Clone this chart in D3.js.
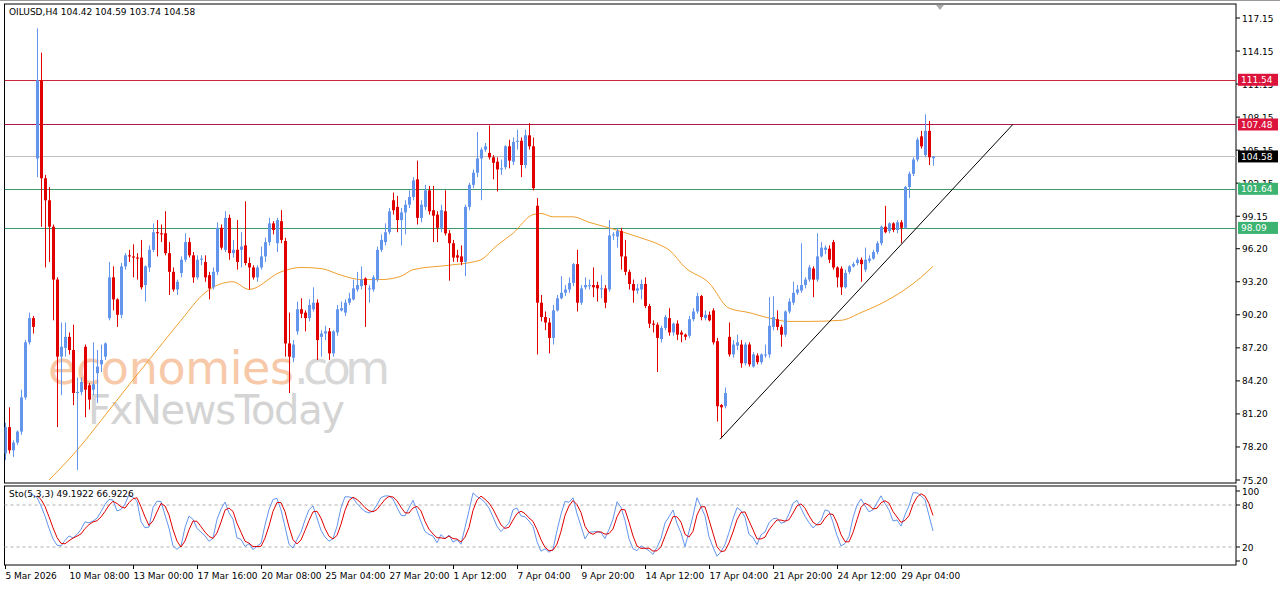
<!DOCTYPE html>
<html><head><meta charset="utf-8">
<script src="https://cdn.jsdelivr.net/npm/d3@7"></script>
<style>body{margin:0;background:#fff}svg{display:block}text{font-family:"DejaVu Sans",sans-serif}</style>
</head><body><svg id="c" width="1280" height="589"></svg>
<script>
const open=[77.6,80.0,77.9,78.6,79.6,82.7,87.7,89.9,104.4,111.5,
102.6,100.6,98.2,93.4,86.4,87.2,88.2,87.0,83.1,83.2,
87.3,83.8,83.4,84.9,85.7,86.4,89.9,93.6,91.6,90.2,
94.6,95.6,95.5,95.4,95.4,92.9,94.5,96.1,97.7,97.6,
97.6,95.8,94.1,92.5,94.0,95.2,96.8,95.6,93.6,95.2,
95.0,93.8,92.7,94.1,98.1,96.1,99.0,95.8,96.1,96.1,
96.5,94.9,94.5,93.6,94.5,95.5,96.8,98.5,96.7,98.7,
96.9,87.6,86.3,88.7,90.7,90.4,89.9,90.7,91.3,88.2,
88.5,88.7,86.7,88.6,90.6,90.4,91.3,91.6,92.5,92.8,
93.5,92.5,92.5,93.4,96.1,96.8,97.7,100.6,100.0,98.8,
99.5,100.2,100.9,102.5,99.0,100.0,101.5,99.7,99.3,98.1,
99.6,97.6,96.7,95.6,95.5,95.0,100.0,102.0,103.1,104.4,
105.2,104.9,104.5,104.1,103.4,103.6,105.5,104.1,105.9,106.0,
103.8,106.5,105.5,100.1,91.3,90.0,89.5,88.1,90.6,91.7,
92.2,92.5,93.1,94.8,91.3,92.7,92.8,92.9,92.9,92.6,
92.6,92.5,97.4,97.3,97.8,95.5,94.1,93.0,92.4,92.5,
93.0,91.0,89.4,89.3,88.0,89.0,89.9,88.6,89.4,88.6,
88.4,88.3,89.8,90.5,91.9,89.9,90.2,90.6,87.8,82.0,
81.9,88.2,86.6,87.4,87.5,85.8,87.5,85.5,86.5,85.9,
86.5,86.6,89.1,89.8,89.1,88.4,90.5,91.3,92.2,92.4,
92.9,93.4,94.4,93.4,95.5,96.1,96.2,96.8,94.5,94.4,
92.7,94.1,94.6,94.9,95.2,94.3,95.1,95.3,95.9,96.7,
98.2,97.8,98.5,97.9,98.6,98.1,101.8,103.0,104.3,106.4,
104.7,106.9,104.42];
const high=[80.4,81.8,78.8,79.7,83.4,87.9,90.4,90.1,116.2,114.0,
102.9,101.8,98.4,93.6,89.5,89.5,88.6,89.3,84.5,84.5,
87.5,84.0,87.7,87.0,87.5,87.7,95.0,94.6,91.7,94.9,
95.8,96.1,96.6,95.8,97.0,94.7,96.5,98.5,98.8,98.4,
99.6,96.8,94.5,93.4,95.5,97.6,97.2,95.9,95.6,95.6,
95.6,94.1,94.5,98.6,98.4,99.6,99.3,97.0,98.8,97.7,
100.5,95.4,94.7,94.7,96.4,97.2,99.0,98.7,99.0,99.7,
97.2,90.4,87.9,91.4,91.7,90.6,91.6,92.7,91.6,88.8,
89.2,89.0,88.8,91.1,91.4,91.6,92.2,93.4,94.1,94.6,
93.6,92.9,93.8,96.4,97.5,98.5,99.9,101.3,101.0,99.9,
100.6,101.5,102.7,104.2,100.6,102.0,101.9,101.9,99.6,100.2,
101.5,97.9,97.0,96.1,96.5,100.2,102.2,103.4,106.8,105.4,
105.8,107.4,104.7,104.5,104.3,105.6,106.1,106.3,107.0,106.3,
107.0,107.6,106.3,100.8,92.0,90.5,89.9,91.1,92.0,93.7,
92.9,93.6,94.9,96.1,92.9,93.6,93.4,94.5,93.2,93.8,
92.9,98.8,97.7,98.1,98.1,97.0,94.3,93.4,93.0,93.4,
93.6,91.2,89.7,89.5,89.2,90.2,90.8,89.5,89.7,88.8,
88.5,90.1,90.8,92.2,92.0,90.6,90.5,90.8,88.1,82.1,
83.6,89.5,87.9,88.4,87.9,87.7,87.7,86.8,86.7,86.7,
87.5,91.8,91.9,90.6,89.3,90.6,91.7,93.2,92.9,96.7,
93.6,94.7,94.6,97.6,96.8,96.5,96.5,97.0,94.6,94.6,
94.3,94.7,95.0,95.4,95.4,96.3,95.6,96.1,96.9,98.3,
100.1,98.6,98.6,98.8,98.8,101.9,103.2,104.5,106.3,106.9,
108.4,107.8,104.59];
const low=[77.0,77.6,77.3,78.4,79.3,82.5,87.5,88.5,102.7,98.2,
94.5,95.0,89.7,80.0,82.9,86.4,86.6,82.0,76.1,82.9,
80.9,81.6,82.9,82.2,85.0,86.1,89.7,90.6,89.1,89.9,
94.3,95.0,93.6,93.4,92.5,91.4,94.1,95.9,95.5,96.8,
95.6,92.0,92.3,92.0,93.6,95.0,95.4,93.1,93.4,94.7,
93.2,91.6,92.5,93.8,96.1,95.9,95.2,95.4,94.3,94.5,
94.7,92.5,93.4,93.2,94.3,95.0,96.5,97.5,95.9,96.7,
86.4,83.1,85.9,88.4,89.9,88.7,89.6,90.5,86.1,86.4,
87.9,86.1,86.4,88.3,90.5,90.1,91.1,91.5,92.3,92.5,
89.1,91.3,92.3,93.2,95.9,96.5,97.5,99.3,97.7,96.5,
97.5,99.9,100.6,98.4,98.6,99.7,99.3,96.8,96.8,97.7,
97.4,93.3,95.0,95.0,94.7,93.7,99.7,101.7,102.7,100.6,
105.0,104.3,102.5,101.4,102.9,103.4,103.5,103.8,105.2,102.7,
103.5,105.2,101.5,86.6,89.6,88.8,86.7,87.5,90.5,91.6,
91.9,92.2,92.8,90.5,91.1,92.5,92.5,91.8,91.4,91.7,
90.8,92.3,97.0,96.3,94.3,93.8,92.5,91.3,92.1,91.6,
90.8,89.0,88.6,85.0,87.7,88.8,88.3,88.3,87.9,87.7,
87.9,88.1,89.6,90.3,89.7,89.7,89.6,87.5,80.5,79.0,
81.7,86.4,86.3,87.0,85.4,85.6,85.5,85.4,85.7,85.7,
86.3,86.3,88.8,88.8,87.3,88.2,90.3,91.1,92.0,92.2,
92.6,93.2,91.8,93.2,95.4,95.7,94.9,94.3,92.7,92.0,
92.6,93.9,94.5,94.7,93.2,94.1,94.9,95.2,95.7,96.5,
97.6,97.6,97.7,97.6,96.7,98.0,100.8,102.8,104.1,105.3,
104.5,103.8,103.74];
const close=[80.0,77.9,78.6,79.6,82.7,87.7,89.9,89.1,111.5,102.6,
100.6,98.2,93.4,86.4,87.3,88.2,87.0,83.1,83.2,84.1,
83.4,82.5,83.9,85.5,86.1,87.6,93.6,91.6,90.2,94.6,
95.6,95.5,95.4,95.3,92.7,94.6,96.1,97.7,97.6,97.5,
95.8,94.1,92.5,93.2,95.2,96.8,95.6,93.6,95.2,95.3,
93.6,92.6,94.1,98.1,96.3,99.0,95.8,96.1,95.0,96.4,
94.9,94.5,93.6,94.5,95.5,96.8,98.5,97.9,98.8,97.0,
87.6,86.4,87.5,90.7,90.3,89.9,91.1,91.3,87.9,88.5,
88.7,86.7,88.7,90.7,90.8,91.3,91.7,92.6,92.9,93.4,
92.9,92.6,93.6,96.1,97.0,97.7,99.6,99.7,98.8,99.5,
100.2,100.9,102.4,99.0,100.2,101.5,99.6,99.2,98.1,99.7,
97.6,96.7,95.4,95.4,95.0,100.0,102.0,103.1,104.4,105.2,
105.5,104.5,104.0,103.4,103.5,105.5,104.2,105.9,106.0,103.8,
106.5,105.5,101.7,91.3,90.0,89.5,88.1,90.6,91.7,92.2,
92.5,93.1,94.8,91.3,92.6,92.9,92.9,92.7,92.6,92.6,
91.3,97.4,97.5,97.8,95.5,94.1,93.0,92.4,92.6,93.0,
91.0,89.4,89.3,88.1,89.0,90.0,88.6,89.4,88.4,88.4,
88.2,89.8,90.5,91.9,90.0,90.2,89.7,87.7,81.9,81.8,
83.1,86.6,87.5,87.7,85.8,87.5,85.7,86.6,85.9,86.6,
86.6,89.2,90.0,89.1,88.4,90.5,91.4,92.2,92.5,92.9,
93.4,94.5,93.4,95.5,96.3,96.3,95.2,94.5,93.6,92.7,
94.0,94.6,94.8,95.2,94.8,95.2,95.3,95.9,96.7,98.2,
97.7,98.5,97.9,98.6,98.1,101.8,103.0,104.3,106.1,105.5,
106.9,104.5,104.58];
const maIdx=[11,18,24,32,38,44,50,57,61,69,74,79,84,89,94,99,102,111,117,119,123,127,132,134,137,142,146,151,158,164,166,170,176,181,186,190,196,201,209,214,220,225,229,232];
const maVal=[75.2,77.9,80.6,84.3,87.0,89.7,92.2,93.2,92.5,94.1,94.5,94.4,93.8,93.4,93.4,93.7,94.3,94.7,95.0,95.2,96.5,97.6,99.3,99.4,99.1,99.1,98.6,98.1,97.3,96.5,96.1,94.5,93.1,90.8,90.4,90.0,89.6,89.6,89.7,90.4,91.4,92.5,93.6,94.6];
const xLabels=["5 Mar 2026","10 Mar 08:00","13 Mar 00:00","17 Mar 16:00","20 Mar 08:00","25 Mar 04:00","27 Mar 20:00","1 Apr 12:00","7 Apr 04:00","9 Apr 20:00","14 Apr 12:00","17 Apr 04:00","21 Apr 20:00","24 Apr 12:00","29 Apr 04:00"];
const yTicks=[117.15,114.15,111.15,108.15,105.15,102.15,99.15,96.20,93.20,90.20,87.20,84.20,81.20,78.20,75.20];
const levels=[{v:111.54,c:"#dc143c",l:"#c8283c"},{v:107.48,c:"#dc143c",l:"#b01848"},{v:104.58,c:"#000",l:"#c0c0c0"},{v:101.64,c:"#3cb371",l:"#3c9a6a"},{v:98.09,c:"#3cb371",l:"#3c9a6a"}];
const trendIdx=[178.75,252], trendVal=[78.9,107.5];
const stoTicks=[100,80,20,0];

const svg=d3.select("#c");
const x=d3.scaleLinear().domain([0,232]).range([5,933]);
const y=d3.scaleLinear().domain([75.20,117.15]).range([480,18]);
const ys=d3.scaleLinear().domain([0,100]).range([561,491]);
const L=4.5,R=1236;
svg.append("defs").append("clipPath").attr("id","cp").append("rect").attr("x",L).attr("y",4).attr("width",R-L).attr("height",479);
// frames
svg.append("rect").attr("x",L).attr("y",4).attr("width",R-L).attr("height",479).attr("fill","none").attr("stroke","#000");
svg.append("rect").attr("x",L).attr("y",486).attr("width",R-L).attr("height",79).attr("fill","none").attr("stroke","#000");
svg.append("line").attr("x1",0).attr("x2",1280).attr("y1",0.5).attr("y2",0.5).attr("stroke","#999");
// watermark
const wm=svg.append("g");
wm.append("text").attr("x",48).attr("y",384).attr("font-size",46).attr("font-family","Liberation Sans").attr("fill","#f6c09a").attr("opacity",0.85).attr("textLength",246).text("economies");
wm.append("text").attr("x",294).attr("y",384).attr("font-size",46).attr("font-family","Liberation Sans").attr("fill","#d8d8d8").attr("textLength",96).text(".com");
wm.append("text").attr("x",88).attr("y",424).attr("font-size",40).attr("font-family","Liberation Sans").attr("fill","#d0d0d0").attr("opacity",0.9).attr("textLength",257).text("FxNewsToday");
const g=svg.append("g").attr("clip-path","url(#cp)");
// levels
levels.forEach(d=>g.append("line").attr("x1",L).attr("x2",R).attr("y1",Math.round(y(d.v))+0.5).attr("y2",Math.round(y(d.v))+0.5).attr("stroke",d.l).attr("stroke-width",1));
// MA
g.append("path").datum(maIdx.map((d,i)=>[d,maVal[i]])).attr("fill","none").attr("stroke","#f0a030").attr("stroke-width",1)
 .attr("d",d3.line().x(d=>x(d[0])).y(d=>y(d[1])).curve(d3.curveMonotoneX));
// candles
const idx=d3.range(close.length);
const cg=g.append("g");
idx.forEach(i=>{
  const up=close[i]>=open[i], col=up?"#6495ed":"#e00000";
  const cx=Math.round(x(i))+0.5;
  cg.append("line").attr("x1",cx).attr("x2",cx).attr("y1",y(high[i])).attr("y2",y(low[i])).attr("stroke",col);
  const t=y(Math.max(open[i],close[i])), b=y(Math.min(open[i],close[i]));
  cg.append("rect").attr("x",cx-1.5).attr("y",t).attr("width",3).attr("height",Math.max(1,b-t)).attr("fill",col);
});
// trendline
g.append("line").attr("x1",x(trendIdx[0])).attr("y1",y(trendVal[0])).attr("x2",x(trendIdx[1])).attr("y2",y(trendVal[1])).attr("stroke","#000").attr("stroke-width",1);
// y axis
yTicks.forEach(v=>{
  const yy=y(v);
  svg.append("line").attr("x1",R).attr("x2",R+4).attr("y1",yy).attr("y2",yy).attr("stroke","#000");
  svg.append("text").attr("x",R+6).attr("y",yy+3.5).attr("font-size",9).text(v.toFixed(2));
});
levels.forEach(d=>{
  const yy=y(d.v);
  svg.append("rect").attr("x",R+2).attr("y",yy-6).attr("width",40).attr("height",12).attr("fill",d.c);
  svg.append("text").attr("x",R+5).attr("y",yy+3.5).attr("font-size",9).attr("fill","#fff").text(d.v.toFixed(2));
});
// stochastic 5,3,3
const raw=idx.map(i=>{ if(i<4) return null; const hh=d3.max(high.slice(i-4,i+1)), ll=d3.min(low.slice(i-4,i+1)); return hh===ll?50:(close[i]-ll)/(hh-ll)*100;});
const sma=(a,n)=>a.map((v,i)=>{const s=a.slice(Math.max(0,i-n+1),i+1).filter(z=>z!=null); return s.length<n?null:d3.mean(s);});
const K=sma(raw,3), D=sma(K,3);
[80,20].forEach(v=>svg.append("line").attr("x1",L).attr("x2",R).attr("y1",ys(v)).attr("y2",ys(v)).attr("stroke","#b0b0b0").attr("stroke-dasharray","3,3"));
const sl=d3.line().defined(d=>d[1]!=null).x(d=>x(d[0])).y(d=>ys(d[1]));
svg.append("path").datum(K.map((v,i)=>[i,v])).attr("fill","none").attr("stroke","#6495ed").attr("d",sl);
svg.append("path").datum(D.map((v,i)=>[i,v])).attr("fill","none").attr("stroke","#e00000").attr("d",sl);
stoTicks.forEach(v=>{
  svg.append("line").attr("x1",R).attr("x2",R+4).attr("y1",ys(v)).attr("y2",ys(v)).attr("stroke","#000");
  svg.append("text").attr("x",R+6).attr("y",ys(v)+3.5).attr("font-size",9).text(v);
});
svg.append("text").attr("x",9).attr("y",497).attr("font-size",9).text("Sto(5,3,3) 49.1922 66.9226");
svg.append("text").attr("x",9).attr("y",15).attr("font-size",9).text("OILUSD,H4  104.42 104.59 103.74 104.58");
// x axis
xLabels.forEach((t,k)=>{
  const xx=Math.round(x(k*16))+0.5;
  svg.append("line").attr("x1",xx).attr("x2",xx).attr("y1",565).attr("y2",569).attr("stroke","#000");
  svg.append("text").attr("x",xx).attr("y",579).attr("font-size",9).text(t);
});
svg.append("path").attr("d","M936,5 L944,5 L940,10 Z").attr("fill","#aaa");
</script></body></html>
